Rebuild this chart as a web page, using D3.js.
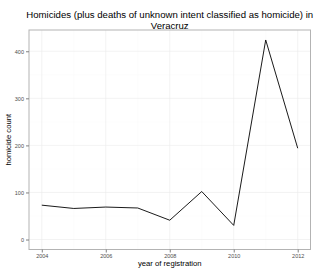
<!DOCTYPE html>
<html>
<head>
<meta charset="utf-8">
<script src="https://cdn.jsdelivr.net/npm/d3@7"></script>
<style>
  body { margin: 0; background: #fff; }
  text { font-family: "Liberation Sans", Arial, sans-serif; }
</style>
</head>
<body>
<svg id="chart"></svg>
<script>
const years = [2004, 2005, 2006, 2007, 2008, 2009, 2010, 2011, 2012];
const homicides = [73, 66, 69, 67, 41, 102, 30, 424, 194];
const xTicks = [2004, 2006, 2008, 2010, 2012];
const yTicks = [0, 100, 200, 300, 400];

const W = 320, H = 274;
const margin = { top: 30, right: 9.5, bottom: 24.5, left: 29 };
const width = W - margin.left - margin.right,
    height = H - margin.top - margin.bottom;

const svg = d3.select("#chart")
    .attr("width", W)
    .attr("height", H);

const g = svg.append("g")
    .attr("transform", `translate(${margin.left}, ${margin.top})`);

// ggplot style 5% expansion
const xPad = (2012 - 2004) * 0.05;
const x = d3.scaleLinear()
    .domain([2004 - xPad, 2012 + xPad])
    .range([0, width]);

const yMax = d3.max(homicides), yPad = yMax * 0.05;
const y = d3.scaleLinear()
    .domain([0 - yPad, yMax + yPad])
    .range([height, 0]);

// minor grid
const xMinor = [2003, 2005, 2007, 2009, 2011].filter(v => v > x.domain()[0]);
const yMinor = [50, 150, 250, 350];
g.append("g").selectAll("line")
    .data(xMinor)
    .join("line")
    .attr("x1", d => x(d)).attr("x2", d => x(d))
    .attr("y1", 0).attr("y2", height)
    .style("stroke", "#fafafa").style("stroke-width", 0.5);
g.append("g").selectAll("line")
    .data(yMinor)
    .join("line")
    .attr("x1", 0).attr("x2", width)
    .attr("y1", d => y(d)).attr("y2", d => y(d))
    .style("stroke", "#fafafa").style("stroke-width", 0.5);

// major grid
g.append("g").selectAll("line")
    .data(xTicks)
    .join("line")
    .attr("x1", d => x(d)).attr("x2", d => x(d))
    .attr("y1", 0).attr("y2", height)
    .style("stroke", "#ebebeb").style("stroke-width", 0.6);
g.append("g").selectAll("line")
    .data(yTicks)
    .join("line")
    .attr("x1", 0).attr("x2", width)
    .attr("y1", d => y(d)).attr("y2", d => y(d))
    .style("stroke", "#ebebeb").style("stroke-width", 0.6);

// the line
const line = d3.line()
    .x((d, i) => x(years[i]))
    .y(d => y(d));

g.append("path")
    .datum(homicides)
    .attr("d", line)
    .style("fill", "none")
    .style("stroke", "black")
    .style("stroke-width", 0.9);

// panel border
g.append("rect")
    .attr("x", 0).attr("y", 0)
    .attr("width", width).attr("height", height)
    .style("fill", "none")
    .style("stroke", "#b3b3b3")
    .style("stroke-width", 1);

// axes
const xAxis = g.append("g")
    .attr("transform", `translate(0, ${height})`)
    .call(d3.axisBottom(x).tickValues(xTicks).tickFormat(d3.format("d")).tickSize(3).tickPadding(2));
const yAxis = g.append("g")
    .call(d3.axisLeft(y).tickValues(yTicks).tickSize(3).tickPadding(2));

[xAxis, yAxis].forEach(a => {
    a.select(".domain").remove();
    a.selectAll(".tick line").style("stroke", "#7f7f7f");
    a.selectAll(".tick text")
        .style("fill", "#4d4d4d")
        .style("font-size", "5.5px")
        .style("font-family", "Liberation Sans, Arial, sans-serif");
});

// titles
svg.append("text")
    .attr("x", margin.left + width / 2)
    .attr("y", 18)
    .attr("text-anchor", "middle")
    .style("font-size", "9.6px")
    .text("Homicides (plus deaths of unknown intent classified as homicide) in");
svg.append("text")
    .attr("x", margin.left + width / 2)
    .attr("y", 28.5)
    .attr("text-anchor", "middle")
    .style("font-size", "9.6px")
    .text("Veracruz");

svg.append("text")
    .attr("x", margin.left + width / 2)
    .attr("y", 266)
    .attr("text-anchor", "middle")
    .style("font-size", "7.7px")
    .text("year of registration");

svg.append("text")
    .attr("transform", `translate(11, ${margin.top + height / 2}) rotate(-90)`)
    .attr("text-anchor", "middle")
    .style("font-size", "7.7px")
    .text("homicide count");
</script>
</body>
</html>
